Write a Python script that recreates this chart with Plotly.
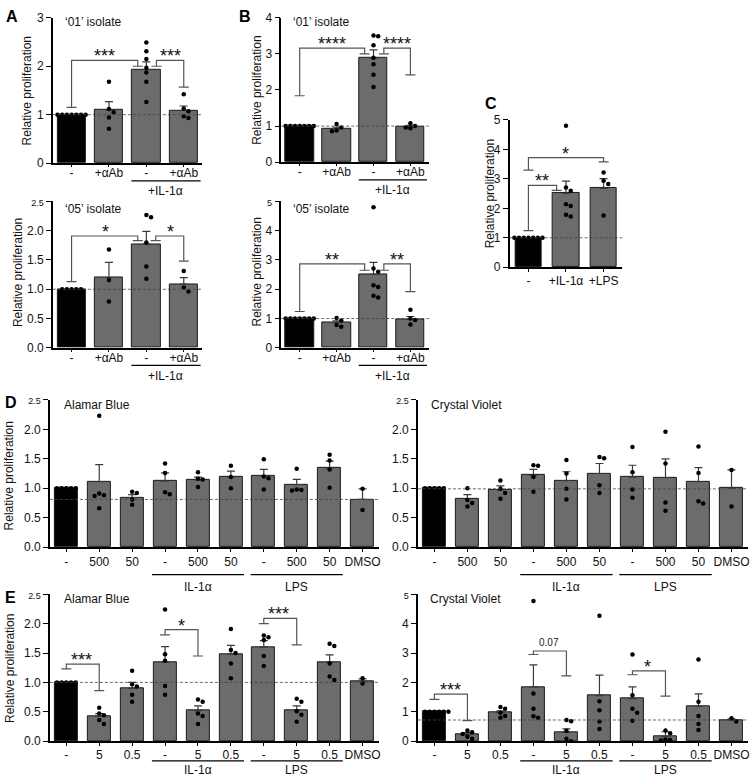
import plotly.graph_objects as go

W, H = 754, 783
FONT = "Liberation Sans, Arial, sans-serif"
GRAY = "#6c6c6c"

# ------------------------------------------------------------------ data
AB_cats = ["-", "+αAb", "-", "+αAb"]
C_cats = ["-", "+IL-1α", "+LPS"]
D_cats = ["-", "500", "50", "-", "500", "50", "-", "500", "50", "DMSO"]
E_cats = ["-", "5", "0.5", "-", "5", "0.5", "-", "5", "0.5", "DMSO"]

A1_means = [1.0, 1.10, 1.93, 1.09]
A1_sem = [0.0, 0.17, 0.16, 0.09]
A1_pts = [[1.0] * 7, [1.68, 1.12, 1.05, 0.94, 0.71],
          [2.49, 2.31, 2.15, 1.97, 1.87, 1.68, 1.26], [1.42, 1.13, 1.07, 0.97, 0.93]]

A2_means = [1.0, 1.20, 1.77, 1.09]
A2_sem = [0.0, 0.26, 0.22, 0.11]
A2_pts = [[1.0] * 5, [1.68, 1.16, 0.79], [2.27, 2.23, 1.80, 1.39, 1.18], [1.31, 1.03, 0.96]]

B1_means = [1.0, 0.93, 2.88, 0.98]
B1_sem = [0.0, 0.04, 0.23, 0.04]
B1_pts = [[1.0] * 7, [1.06, 0.96, 0.88, 0.86],
          [3.51, 3.49, 3.24, 2.89, 2.71, 2.42, 2.08], [1.08, 1.0, 0.96, 0.94]]

B2_means = [1.0, 0.86, 2.51, 0.97]
B2_sem = [0.0, 0.06, 0.41, 0.10]
B2_pts = [[1.0] * 7, [1.02, 0.93, 0.78, 0.72],
          [4.8, 2.71, 2.6, 2.14, 2.08, 1.78, 1.72], [1.3, 1.0, 0.95, 0.8]]

C_means = [1.0, 2.51, 2.68]
C_sem = [0.0, 0.41, 0.33]
C_pts = [[1.0] * 7, [4.8, 2.71, 2.6, 2.14, 2.08, 1.78, 1.72], [3.22, 2.94, 2.83, 1.76]]

DL_means = [1.0, 1.11, 0.84, 1.12, 1.14, 1.19, 1.21, 1.06, 1.34, 0.81]
DL_sem = [0.0, 0.29, 0.05, 0.14, 0.05, 0.10, 0.11, 0.09, 0.12, 0.18]
DL_pts = [[1.0] * 5, [2.23, 0.91, 0.88, 0.87, 0.66], [0.94, 0.92, 0.81, 0.72],
          [1.42, 1.26, 0.93, 0.9], [1.27, 1.16, 1.15, 1.02], [1.38, 1.19, 1.0],
          [1.49, 1.2, 1.17, 0.98], [1.33, 0.98, 0.97, 0.96], [1.57, 1.47, 1.32, 1.01],
          [0.99, 0.63]]
DL_ref = 0.81

DR_means = [1.0, 0.82, 0.97, 1.22, 1.13, 1.25, 1.19, 1.18, 1.11, 1.0]
DR_sem = [0.0, 0.07, 0.07, 0.10, 0.15, 0.17, 0.20, 0.32, 0.24, 0.31]
DR_pts = [[1.0] * 5, [1.0, 0.8, 0.75, 0.69], [1.13, 0.99, 0.92, 0.82],
          [1.39, 1.38, 1.19, 0.94], [1.48, 1.25, 0.99, 0.81], [1.53, 1.51, 1.05, 0.92],
          [1.7, 1.27, 0.98, 0.84], [1.96, 1.42, 0.76, 0.62], [1.71, 1.26, 0.78, 0.74],
          [1.31, 0.69]]
DR_ref = 0.99

EL_means = [1.0, 0.42, 0.90, 1.35, 0.52, 1.48, 1.60, 0.53, 1.34, 1.02]
EL_sem = [0.0, 0.05, 0.10, 0.26, 0.08, 0.15, 0.11, 0.07, 0.13, 0.04]
EL_pts = [[1.0] * 5, [0.57, 0.47, 0.44, 0.36, 0.29], [1.2, 0.97, 0.93, 0.79, 0.67],
          [2.24, 1.48, 1.37, 0.94, 0.79], [0.71, 0.67, 0.47, 0.43, 0.29],
          [1.91, 1.55, 1.5, 1.32, 1.07], [1.8, 1.77, 1.72, 1.45, 1.28],
          [0.72, 0.67, 0.51, 0.45, 0.33], [1.66, 1.62, 1.32, 1.1, 1.04], [1.07, 0.98]]
EL_ref = 1.0

ER_means = [1.0, 0.22, 0.97, 1.85, 0.30, 1.55, 1.45, 0.15, 1.18, 0.72]
ER_sem = [0.0, 0.07, 0.06, 0.75, 0.12, 0.70, 0.40, 0.17, 0.43, 0.04]
ER_pts = [[1.0] * 6, [0.36, 0.3, 0.24, 0.15, 0.08], [1.16, 1.1, 0.97, 0.86, 0.8],
          [4.77, 1.62, 1.1, 0.85, 0.8], [0.72, 0.68, 0.35, 0.08, 0.0],
          [4.27, 1.36, 1.05, 0.67, 0.41], [2.95, 1.56, 1.1, 0.97, 0.69],
          [0.36, 0.27, 0.06, 0.04, 0.02], [2.78, 1.34, 0.86, 0.58, 0.38], [0.78, 0.67]]
ER_ref = 0.72

# ------------------------------------------------------------------ helpers
def small(t):
    return '<span style="font-size:9px">' + t + '</span>'

panels = [
    dict(cats=AB_cats, means=A1_means, sem=A1_sem, pts=A1_pts, xd=(53, 203), yd=(159, 11),
         yr=3, yt=[0, 1, 2, 3], ytt=["0", "1", "2", "3"], ref=1.0, bw=0.75, tso=-4, tl=2,
         br=[(0, 1.15, 1.77, 2.0, 2.12, "***", 0.89), (2.27, 2.0, 3.0, 1.57, 2.12, "***", 2.65)],
         groups=[(1.6, 3.45, "+IL-1α")], gl=(-18, -28), ttl="‘01’ isolate", ttlxy=(63, 15),
         ytitle=(28, 85)),
    dict(cats=AB_cats, means=A2_means, sem=A2_sem, pts=A2_pts, xd=(53, 203), yd=(347, 198),
         yr=2.5, yt=[0, 0.5, 1, 1.5, 2, 2.5], ytt=["0.0", "0.5", "1.0", "1.5", "2.0", small("2.5")],
         ref=1.0, bw=0.75, tso=-4, tl=2,
         br=[(0, 1.13, 1.77, 1.83, 1.91, "*", 0.9), (2.25, 1.83, 3.0, 1.48, 1.91, "*", 2.65)],
         groups=[(1.6, 3.45, "+IL-1α")], gl=(-18, -28), ttl="‘05’ isolate", ttlxy=(63, 206),
         ytitle=(18, 270)),
    dict(cats=AB_cats, means=B1_means, sem=B1_sem, pts=B1_pts, xd=(282, 430), yd=(158, 11),
         yr=4, yt=[0, 1, 2, 3, 4], ytt=["0", "1", "2", "3", "4"], ref=1.0, bw=0.77, tso=-4, tl=2,
         br=[(0, 1.84, 1.76, 3.0, 3.16, "****", 0.88), (2.28, 3.0, 3.0, 2.42, 3.16, "****", 2.63)],
         groups=[(1.6, 3.45, "+IL-1α")], gl=(-18, -28), ttl="‘01’ isolate", ttlxy=(292, 15),
         ytitle=(258, 85)),
    dict(cats=AB_cats, means=B2_means, sem=B2_sem, pts=B2_pts, xd=(282, 430), yd=(347, 198),
         yr=5, yt=[0, 1, 2, 3, 4, 5], ytt=["0", "1", "2", "3", "4", small("5")], ref=1.0, bw=0.77,
         tso=-4, tl=2,
         br=[(0, 1.24, 1.76, 2.65, 2.87, "**", 0.88), (2.28, 2.65, 3.0, 1.92, 2.87, "**", 2.63)],
         groups=[(1.6, 3.45, "+IL-1α")], gl=(-18, -28), ttl="‘05’ isolate", ttlxy=(292, 206),
         ytitle=(258, 270)),
    dict(cats=C_cats, means=C_means, sem=C_sem, pts=C_pts, xd=(511, 624), yd=(265, 115),
         yr=5, yt=[0, 1, 2, 3, 4, 5], ytt=["0", "1", "2", "3", "4", "5"], ref=1.0, bw=0.7,
         tso=-1, tl=3,
         br=[(0, 1.24, 0.75, 2.61, 2.78, "**", 0.35), (0, 3.3, 2.0, 3.58, 3.72, "*", 1.0)],
         groups=[], gl=(-17, -27), ttl=None, ttlxy=None, ytitle=(491, 190)),
    dict(cats=D_cats, means=DL_means, sem=DL_sem, pts=DL_pts, xd=(50, 380), yd=(550, 400),
         yr=2.5, yt=[0, 0.5, 1, 1.5, 2, 2.5], ytt=["0.0", "0.5", "1.0", "1.5", "2.0", small("2.5")],
         ref=DL_ref, bw=0.7, br=[], tso=0, tl=3,
         groups=[(2.6, 5.4, "IL-1α"), (5.6, 8.4, "LPS")], gl=(-28, -40),
         ttl="Alamar Blue", ttlxy=(62, 405), ytitle=(9, 477)),
    dict(cats=D_cats, means=DR_means, sem=DR_sem, pts=DR_pts, xd=(419, 750), yd=(550, 400),
         yr=2.5, yt=[0, 0.5, 1, 1.5, 2, 2.5], ytt=["0.0", "0.5", "1.0", "1.5", "2.0", small("2.5")],
         ref=DR_ref, bw=0.7, br=[], tso=0, tl=3,
         groups=[(2.6, 5.4, "IL-1α"), (5.6, 8.4, "LPS")], gl=(-28, -40),
         ttl="Crystal Violet", ttlxy=(430, 405), ytitle=None),
    dict(cats=E_cats, means=EL_means, sem=EL_sem, pts=EL_pts, xd=(50, 380), yd=(747.5, 598),
         yr=2.5, yt=[0, 0.5, 1, 1.5, 2, 2.5], ytt=["0.0", "0.5", "1.0", "1.5", "2.0", small("2.5")],
         ref=EL_ref, bw=0.7, tso=-1, tl=3,
         br=[(0, 1.23, 1.0, 0.86, 1.31, "***", 0.46), (3, 1.81, 4, 1.45, 1.9, "*", 3.49),
             (6, 2.0, 7, 1.64, 2.09, "***", 6.45)],
         groups=[(2.6, 5.4, "IL-1α"), (5.6, 8.4, "LPS")], gl=(-20, -29),
         ttl="Alamar Blue", ttlxy=(62, 603), ytitle=(10, 673)),
    dict(cats=E_cats, means=ER_means, sem=ER_sem, pts=ER_pts, xd=(419, 750), yd=(747.5, 598),
         yr=5, yt=[0, 1, 2, 3, 4, 5], ytt=["0", "1", "2", "3", "4", small("5")],
         ref=ER_ref, bw=0.7, tso=-1, tl=3,
         br=[(0, 1.42, 1, 0.7, 1.6, "***", 0.49), (3, 2.95, 4, 2.22, 3.07, "0.07", 3.47),
             (6, 2.26, 7, 1.53, 2.39, "*", 6.45)],
         groups=[(2.6, 5.4, "IL-1α"), (5.6, 8.4, "LPS")], gl=(-20, -29),
         ttl="Crystal Violet", ttlxy=(429, 603), ytitle=None),
]


def swarm(vals, ppu_y, ppu_x, d=4.7):
    order = sorted(range(len(vals)), key=lambda i: -vals[i])
    cands = [0.0]
    for k in range(1, 8):
        cands += [k * d, -k * d]
    placed, offs = [], [0.0] * len(vals)
    for i in order:
        yp = vals[i] * ppu_y
        chosen = cands[-1]
        for c in cands:
            if all((c - px) ** 2 + (yp - py) ** 2 >= d * d * 0.9 for px, py in placed):
                chosen = c
                break
        placed.append((chosen, yp))
        offs[i] = chosen / ppu_x
    return offs


fig = go.Figure()
layout = dict(width=W, height=H, margin=dict(l=0, r=0, t=0, b=0),
              paper_bgcolor="white", plot_bgcolor="white", showlegend=False,
              font=dict(family=FONT, size=12, color="#111"))
shapes, annots = [], []

for k, p in enumerate(panels):
    s = "" if k == 0 else str(k + 1)
    xa, ya = "x" + s, "y" + s
    n = len(p["cats"])
    x0, x1 = p["xd"]
    yb, yt = p["yd"]
    hpx = yb - yt
    ppu_x = (x1 - x0) / n
    ppu_y = hpx / p["yr"]
    layout["xaxis" + s] = dict(domain=[x0 / W, x1 / W], anchor=ya, range=[-0.5, n - 0.5],
                               tickvals=list(range(n)), ticktext=p["cats"], showline=True,
                               linecolor="black", linewidth=1.5, ticks="outside", ticklen=p["tl"],
                               tickwidth=1.2, tickcolor="black", showgrid=False, zeroline=False,
                               ticklabeloverflow="allow", ticklabelstandoff=p["tso"],
                               tickfont=dict(size=12, family=FONT, color="#111"))
    layout["yaxis" + s] = dict(domain=[1 - yb / H, 1 - yt / H], anchor=xa, range=[0, p["yr"]],
                               tickvals=p["yt"], ticktext=p["ytt"], showline=True,
                               linecolor="black", linewidth=1.5, ticks="outside", ticklen=5,
                               tickwidth=1.2, tickcolor="black", showgrid=False, zeroline=False,
                               tickfont=dict(size=12, family=FONT, color="#111"))
    colors = ["black"] + [GRAY] * (n - 1)
    fig.add_trace(go.Bar(x=list(range(n)), y=p["means"], width=p["bw"], xaxis=xa, yaxis=ya,
                         marker=dict(color=colors, line=dict(color="#1a1a1a", width=1)),
                         error_y=dict(type="data", symmetric=False, array=p["sem"],
                                      arrayminus=[0] * n, color="#3a3a3a", thickness=1.2, width=4)))
    xs, ys = [], []
    for i, vals in enumerate(p["pts"]):
        offs = swarm(vals, ppu_y, ppu_x)
        xs += [i + o for o in offs]
        ys += vals
    fig.add_trace(go.Scatter(x=xs, y=ys, mode="markers", xaxis=xa, yaxis=ya,
                             marker=dict(color="black", size=4.5)))
    # reference dashed line
    shapes.append(dict(type="line", xref=xa + " domain", yref=ya, x0=0, x1=1,
                       y0=p["ref"], y1=p["ref"], line=dict(color="#444", width=0.8, dash="3px,2px")))
    # brackets
    for (xl, ybl, xr, ybr, ytop, txt, tx) in p["br"]:
        shapes.append(dict(type="path", xref=xa, yref=ya,
                           path=f"M {xl},{ybl} L {xl},{ytop} L {xr},{ytop} L {xr},{ybr}",
                           line=dict(color="#555", width=1.2)))
        for (xx, yy) in [(xl, ybl), (xr, ybr)]:
            shapes.append(dict(type="line", xref=xa, yref=ya, xsizemode="pixel", xanchor=xx,
                               x0=-5, x1=5, y0=yy, y1=yy, line=dict(color="#555", width=1.2)))
        if txt == "0.07":
            annots.append(dict(x=tx, y=ytop, xref=xa, yref=ya, text=txt, showarrow=False,
                               yanchor="bottom", yshift=1, font=dict(size=10, family=FONT, color="#222")))
        else:
            annots.append(dict(x=tx, y=ytop, xref=xa, yref=ya, text=txt, showarrow=False,
                               yanchor="middle", yshift=4, font=dict(size=18, family=FONT, color="#111")))
    # group underlines / labels (below the axis, positioned relative to the y domain)
    for (g0, g1, gtxt) in p["groups"]:
        gy = p["gl"][0] / hpx
        shapes.append(dict(type="line", xref=xa, yref=ya + " domain",
                           x0=g0, x1=g1, y0=gy, y1=gy,
                           line=dict(color="black", width=1.3)))
        annots.append(dict(x=(g0 + g1) / 2, y=0, xref=xa, yref=ya, text=gtxt, showarrow=False,
                           yanchor="middle", yshift=p["gl"][1], font=dict(size=12, family=FONT, color="#111")))
    # in-panel title
    if p["ttl"]:
        annots.append(dict(x=p["ttlxy"][0] / W, y=1 - p["ttlxy"][1] / H, xref="paper", yref="paper",
                           text=p["ttl"], showarrow=False, xanchor="left", yanchor="middle",
                           font=dict(size=12, family=FONT, color="#111")))
    if p["ytitle"]:
        annots.append(dict(x=p["ytitle"][0] / W, y=1 - p["ytitle"][1] / H, xref="paper", yref="paper",
                           text="Relative proliferation", textangle=-90, showarrow=False,
                           xanchor="center", yanchor="middle",
                           font=dict(size=12, family=FONT, color="#111")))

# panel letters
for letter, (lx, ly) in {"A": (12, 10), "B": (246, 10), "C": (492, 98),
                          "D": (11, 403), "E": (11, 601)}.items():
    annots.append(dict(x=lx / W, y=1 - ly / H, xref="paper", yref="paper", text="<b>" + letter + "</b>",
                       showarrow=False, xanchor="center", yanchor="middle",
                       font=dict(size=16, family=FONT, color="black")))

layout["shapes"] = shapes
layout["annotations"] = annots
layout["bargap"] = 0
fig.update_layout(**layout)
fig.write_html("out.html", config={"displayModeBar": False},
               post_script="document.body.style.margin='0';document.body.style.overflow='hidden';")
